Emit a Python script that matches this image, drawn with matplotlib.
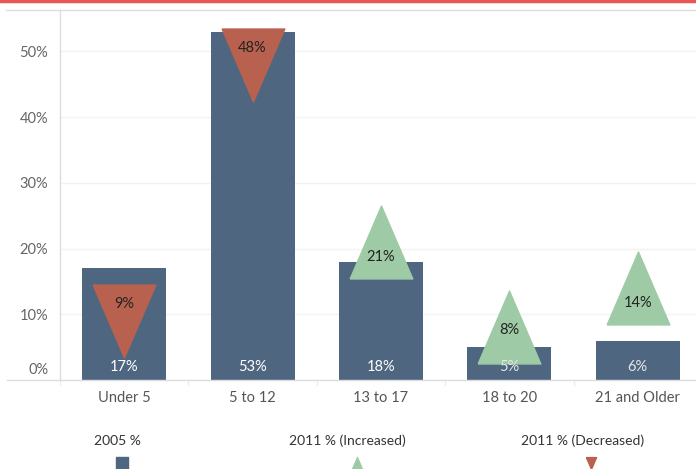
import matplotlib.pyplot as plt
from matplotlib.lines import Line2D
import numpy as np

plt.rcParams['font.family'] = ['Lato', 'DejaVu Sans']

categories = ["Under 5", "5 to 12", "13 to 17", "18 to 20", "21 and Older"]
pct_2005 = [17, 53, 18, 5, 6]
pct_2011 = [9, 48, 21, 8, 14]
yticks = [0, 10, 20, 30, 40, 50]

bar_color = "#4f6680"
up_color = "#9ecba6"
down_color = "#b9614f"

# triangle marker, taller than wide
tri_up = [(-0.43, -0.5), (0.43, -0.5), (0, 0.5), (-0.43, -0.5)]
tri_down = [(-0.43, 0.5), (0.43, 0.5), (0, -0.5), (-0.43, 0.5)]

fig = plt.figure(figsize=(6.96, 4.69), dpi=100)
ax = fig.add_axes([60 / 696, 89 / 469, 642 / 696, 370 / 469])

x = np.arange(len(categories))
ax.bar(x, pct_2005, width=0.655, color=bar_color, zorder=2)

for i, (old, new) in enumerate(zip(pct_2005, pct_2011)):
    increased = new > old
    ax.plot(i, new, marker=tri_up if increased else tri_down, markersize=52.5,
            color=up_color if increased else down_color, linestyle="none", zorder=3)
    if increased:
        dy = -2 if categories[i] == "18 to 20" else -11
    else:
        dy = 12
    ax.annotate(f"{new}%", (i, new), xytext=(0, dy), textcoords="offset points",
                ha="center", va="center", fontsize=10.5, color="#222222", zorder=4)
    ax.annotate(f"{old}%", (i, 0), xytext=(0, 9.5), textcoords="offset points",
                ha="center", va="center", fontsize=10.5,
                color="#e6e6e6" if increased and old < 8 else "white", zorder=4)

ax.set_xlim(-0.5, len(categories) - 0.5)
ax.set_ylim(0, 56.3)
ax.set_yticks(yticks)
ax.set_yticklabels([f"{t}%" if t else "" for t in yticks], fontsize=10.5, color="#666666")
# 0% label sits a bit above the baseline
ax.annotate("0%", (0, 0), xycoords=ax.get_yaxis_transform(), xytext=(-8.5, 7.5),
            textcoords="offset points", ha="right", va="center",
            fontsize=10.5, color="#666666")
ax.set_xticks(x)
ax.set_xticklabels(categories, fontsize=10.5, color="#555555")
ax.tick_params(axis="y", length=0, pad=8.5)
ax.tick_params(axis="x", length=0, pad=8)
ax.yaxis.grid(True, color="#f2f2f2", linewidth=1, zorder=0)
for s in ax.spines.values():
    s.set_visible(False)

# category separators under the baseline
for b in np.arange(len(categories) + 1) - 0.5:
    ax.plot([b, b], [0, -0.7], color="#eeeeee", linewidth=1, clip_on=False)

# frame lines
fig.add_artist(Line2D([0, 1], [1 - 1.5 / 469] * 2, color="#e85656", linewidth=2.5))
fig.add_artist(Line2D([6 / 696, 1], [1 - 10 / 469] * 2, color="#dddddd", linewidth=1))
fig.add_artist(Line2D([60 / 696] * 2, [89 / 469, 1 - 10 / 469], color="#dddddd", linewidth=1))
fig.add_artist(Line2D([7 / 696, 1], [89 / 469] * 2, color="#dddddd", linewidth=1))

# legend
legend_items = [("2005 %", 117, 122, "s", bar_color),
                ("2011 % (Increased)", 347, 357, tri_up, up_color),
                ("2011 % (Decreased)", 583, 591, tri_down, down_color)]
for label, tx, mx, mk, col in legend_items:
    fig.text(tx / 696, 1 - 441 / 469, label, ha="center", va="center",
             fontsize=10, color="#333333")
    fig.add_artist(Line2D([mx / 696], [1 - 463 / 469], marker=mk, markersize=8.5,
                          color=col, linestyle="none"))

fig.savefig("out.png", dpi=100)
